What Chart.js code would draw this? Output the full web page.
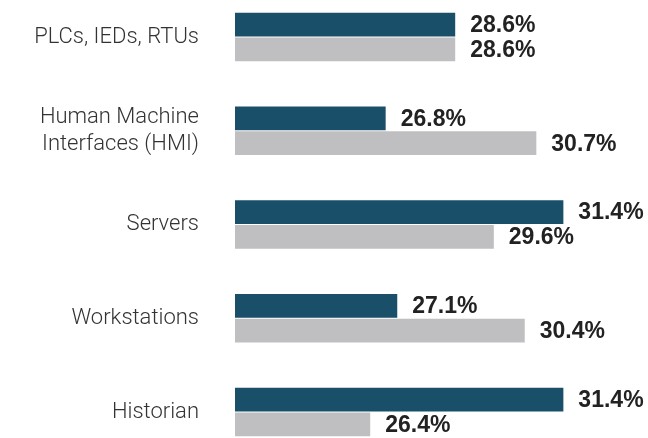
<!DOCTYPE html>
<html>
<head>
<meta charset="utf-8">
<script src="https://cdn.jsdelivr.net/npm/chart.js@4.4.1/dist/chart.umd.min.js"></script>
<style>
  html, body { margin: 0; padding: 0; background: #fff; }
  #wrap { width: 648px; height: 438px; }
</style>
</head>
<body>
<div id="wrap"><canvas id="chart"></canvas></div>
<script>
// ---------------- Data ----------------
const CATEGORIES = [
  "PLCs, IEDs, RTUs",
  ["Human Machine", "Interfaces (HMI)"],
  "Servers",
  "Workstations",
  "Historian"
];
const SERIES_A = [28.6, 26.8, 31.4, 27.1, 31.4];
const SERIES_B = [28.6, 30.7, 29.6, 30.4, 26.4];
const X_MIN = 22.9;
const X_MAX = 32.4;
const fmtPct = (v) => v.toFixed(1) + "%";

// ---------------- Value labels ----------------
const valueLabels = {
  id: "valueLabels",
  afterDatasetsDraw(chart) {
    const { ctx } = chart;
    ctx.save();
    ctx.font = "bold 23px 'Liberation Sans', Arial, sans-serif";
    ctx.fillStyle = "#222";
    ctx.textAlign = "left";
    ctx.textBaseline = "middle";
    chart.data.datasets.forEach((ds, i) => {
      chart.getDatasetMeta(i).data.forEach((bar, j) => {
        ctx.fillText(fmtPct(ds.data[j]), bar.x + 15, bar.y + 1);
      });
    });
    ctx.restore();
  }
};

new Chart(document.getElementById("chart"), {
  type: "bar",
  data: {
    labels: CATEGORIES,
    datasets: [
      { label: "A", data: SERIES_A, backgroundColor: "#1a4f69", base: X_MIN, clip: false },
      { label: "B", data: SERIES_B, backgroundColor: "#bfbfc1", base: X_MIN, clip: false }
    ]
  },
  options: {
    indexAxis: "y",
    responsive: true,
    maintainAspectRatio: false,
    animation: false,
    categoryPercentage: 0.53,
    barPercentage: 0.95,
    layout: { padding: { top: 37, bottom: 26, right: 46, left: 0 } },
    scales: {
      x: { display: false, min: X_MIN, max: X_MAX },
      y: {
        offset: false,
        grid: { display: false },
        border: { display: false },
        afterFit(scale) {
          scale.width = 235;
          scale.paddingTop = 0;
          scale.paddingBottom = 0;
        },
        ticks: {
          color: "#333",
          padding: 28,
          font: { family: "Roboto", weight: "300", size: 22, lineHeight: 1.25 }
        }
      }
    },
    plugins: { legend: { display: false }, tooltip: { enabled: false } }
  },
  plugins: [valueLabels]
});
</script>
</body>
</html>
